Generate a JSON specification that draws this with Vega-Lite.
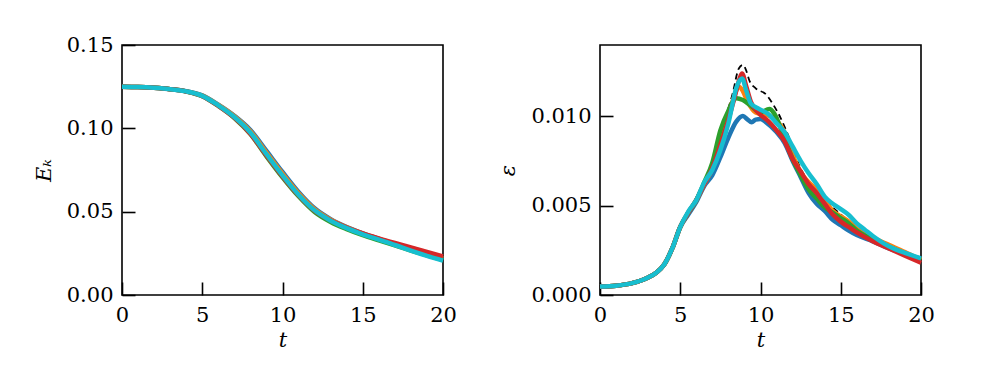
{
  "$schema": "https://vega.github.io/schema/vega-lite/v6.json",
  "background": "white",
  "padding": {"left": 32, "top": 33, "right": 5, "bottom": 5},
  "spacing": 39,
  "config": {
    "font": "DejaVu Serif",
    "view": {"stroke": "black", "strokeWidth": 1.6},
    "axis": {
      "grid": false,
      "domain": false,
      "tickSize": -13,
      "tickWidth": 1.6,
      "tickColor": "black",
      "labelPadding": 22,
      "labelFontSize": 21,
      "labelColor": "black",
      "labelFont": "DejaVu Serif",
      "titleFont": "DejaVu Serif",
      "titleFontSize": 21,
      "titleFontWeight": "normal",
      "titleFontStyle": "italic",
      "titleColor": "black",
      "labelFlush": false,
      "labelOverlap": false
    }
  },
  "datasets": {
    "ek": [
      {"t":0,"s":"a","v":0.125},{"t":1,"s":"a","v":0.1248},{"t":2,"s":"a","v":0.1243},{"t":3,"s":"a","v":0.1235},{"t":4,"s":"a","v":0.1223},{"t":5,"s":"a","v":0.1198},{"t":6,"s":"a","v":0.1142},{"t":7,"s":"a","v":0.1075},{"t":8,"s":"a","v":0.099},{"t":9,"s":"a","v":0.0865},{"t":10,"s":"a","v":0.0738},{"t":11,"s":"a","v":0.0618},{"t":12,"s":"a","v":0.052},{"t":13,"s":"a","v":0.0455},{"t":14,"s":"a","v":0.0408},{"t":15,"s":"a","v":0.037},{"t":16,"s":"a","v":0.0337},{"t":17,"s":"a","v":0.0305},{"t":18,"s":"a","v":0.0272},{"t":19,"s":"a","v":0.0242},{"t":20,"s":"a","v":0.0212},
      {"t":0,"s":"b","v":0.125},{"t":1,"s":"b","v":0.1248},{"t":2,"s":"b","v":0.1243},{"t":3,"s":"b","v":0.1235},{"t":4,"s":"b","v":0.1222},{"t":5,"s":"b","v":0.1196},{"t":6,"s":"b","v":0.114},{"t":7,"s":"b","v":0.1072},{"t":8,"s":"b","v":0.0982},{"t":9,"s":"b","v":0.0855},{"t":10,"s":"b","v":0.0728},{"t":11,"s":"b","v":0.0611},{"t":12,"s":"b","v":0.0515},{"t":13,"s":"b","v":0.0452},{"t":14,"s":"b","v":0.0406},{"t":15,"s":"b","v":0.0368},{"t":16,"s":"b","v":0.0336},{"t":17,"s":"b","v":0.0306},{"t":18,"s":"b","v":0.0276},{"t":19,"s":"b","v":0.0248},{"t":20,"s":"b","v":0.0219},
      {"t":0,"s":"c","v":0.125},{"t":1,"s":"c","v":0.1248},{"t":2,"s":"c","v":0.1243},{"t":3,"s":"c","v":0.1235},{"t":4,"s":"c","v":0.1221},{"t":5,"s":"c","v":0.1193},{"t":6,"s":"c","v":0.1134},{"t":7,"s":"c","v":0.1062},{"t":8,"s":"c","v":0.0965},{"t":9,"s":"c","v":0.0832},{"t":10,"s":"c","v":0.0706},{"t":11,"s":"c","v":0.0592},{"t":12,"s":"c","v":0.0498},{"t":13,"s":"c","v":0.0438},{"t":14,"s":"c","v":0.0395},{"t":15,"s":"c","v":0.0359},{"t":16,"s":"c","v":0.0328},{"t":17,"s":"c","v":0.0298},{"t":18,"s":"c","v":0.0267},{"t":19,"s":"c","v":0.0238},{"t":20,"s":"c","v":0.021},
      {"t":0,"s":"d","v":0.125},{"t":1,"s":"d","v":0.1248},{"t":2,"s":"d","v":0.1243},{"t":3,"s":"d","v":0.1235},{"t":4,"s":"d","v":0.1221},{"t":5,"s":"d","v":0.1193},{"t":6,"s":"d","v":0.1135},{"t":7,"s":"d","v":0.1064},{"t":8,"s":"d","v":0.0968},{"t":9,"s":"d","v":0.0838},{"t":10,"s":"d","v":0.0712},{"t":11,"s":"d","v":0.0598},{"t":12,"s":"d","v":0.0505},{"t":13,"s":"d","v":0.0447},{"t":14,"s":"d","v":0.0405},{"t":15,"s":"d","v":0.037},{"t":16,"s":"d","v":0.034},{"t":17,"s":"d","v":0.0312},{"t":18,"s":"d","v":0.0285},{"t":19,"s":"d","v":0.0258},{"t":20,"s":"d","v":0.0232},
      {"t":0,"s":"e","v":0.125},{"t":1,"s":"e","v":0.1248},{"t":2,"s":"e","v":0.1243},{"t":3,"s":"e","v":0.1235},{"t":4,"s":"e","v":0.1222},{"t":5,"s":"e","v":0.1195},{"t":6,"s":"e","v":0.1138},{"t":7,"s":"e","v":0.1068},{"t":8,"s":"e","v":0.0975},{"t":9,"s":"e","v":0.0845},{"t":10,"s":"e","v":0.0718},{"t":11,"s":"e","v":0.0602},{"t":12,"s":"e","v":0.0508},{"t":13,"s":"e","v":0.0446},{"t":14,"s":"e","v":0.0401},{"t":15,"s":"e","v":0.0364},{"t":16,"s":"e","v":0.0332},{"t":17,"s":"e","v":0.03},{"t":18,"s":"e","v":0.0266},{"t":19,"s":"e","v":0.0235},{"t":20,"s":"e","v":0.0206}
    ],
    "ref": [
      {"t":0,"v":0.00047},{"t":1,"v":0.00052},{"t":2,"v":0.00066},{"t":3,"v":0.00098},{"t":3.5,"v":0.00125},{"t":4,"v":0.0017},{"t":4.5,"v":0.0026},{"t":5,"v":0.0038},{"t":5.5,"v":0.0046},{"t":6,"v":0.0053},{"t":6.5,"v":0.0062},{"t":7,"v":0.0071},{"t":7.6,"v":0.0093},{"t":8.25,"v":0.0112},{"t":8.65,"v":0.01266},{"t":8.9,"v":0.01285},{"t":9.1,"v":0.01257},{"t":9.3,"v":0.012},{"t":9.7,"v":0.01155},{"t":10.35,"v":0.0112},{"t":10.75,"v":0.0107},{"t":11.25,"v":0.0099},{"t":11.8,"v":0.00875},{"t":12.4,"v":0.00726},{"t":13,"v":0.0063},{"t":13.9,"v":0.0054},{"t":15,"v":0.0045},{"t":16,"v":0.0037},{"t":17,"v":0.0031},{"t":18,"v":0.0027},{"t":19,"v":0.0023},{"t":20,"v":0.0019}
    ],
    "eps": [
      {"t":0,"s":"a","v":0.00047},{"t":1,"s":"a","v":0.00052},{"t":2,"s":"a","v":0.00066},{"t":3,"s":"a","v":0.00098},{"t":3.5,"s":"a","v":0.00125},{"t":4,"s":"a","v":0.0017},{"t":4.5,"s":"a","v":0.0026},{"t":5,"s":"a","v":0.0038},{"t":5.5,"s":"a","v":0.0045},{"t":6,"s":"a","v":0.0052},{"t":6.5,"s":"a","v":0.0061},{"t":7,"s":"a","v":0.0067},{"t":7.5,"s":"a","v":0.0077},{"t":8,"s":"a","v":0.0088},{"t":8.5,"s":"a","v":0.0097},{"t":8.9,"s":"a","v":0.01},{"t":9.2,"s":"a","v":0.0098},{"t":9.45,"s":"a","v":0.00965},{"t":9.7,"s":"a","v":0.0098},{"t":10,"s":"a","v":0.00983},{"t":10.35,"s":"a","v":0.00965},{"t":11,"s":"a","v":0.0091},{"t":11.5,"s":"a","v":0.0085},{"t":12,"s":"a","v":0.0075},{"t":12.5,"s":"a","v":0.0066},{"t":13,"s":"a","v":0.0057},{"t":13.5,"s":"a","v":0.0051},{"t":14,"s":"a","v":0.0047},{"t":14.5,"s":"a","v":0.0042},{"t":15,"s":"a","v":0.0039},{"t":15.5,"s":"a","v":0.0036},{"t":16,"s":"a","v":0.00335},{"t":17,"s":"a","v":0.003},{"t":18,"s":"a","v":0.0026},{"t":19,"s":"a","v":0.0023},{"t":20,"s":"a","v":0.002},
      {"t":0,"s":"b","v":0.00047},{"t":1,"s":"b","v":0.00052},{"t":2,"s":"b","v":0.00066},{"t":3,"s":"b","v":0.00098},{"t":3.5,"s":"b","v":0.00125},{"t":4,"s":"b","v":0.0017},{"t":4.5,"s":"b","v":0.0026},{"t":5,"s":"b","v":0.0038},{"t":5.5,"s":"b","v":0.0046},{"t":6,"s":"b","v":0.0053},{"t":6.5,"s":"b","v":0.0062},{"t":7,"s":"b","v":0.0071},{"t":7.6,"s":"b","v":0.0091},{"t":8.25,"s":"b","v":0.0108},{"t":8.65,"s":"b","v":0.01164},{"t":8.9,"s":"b","v":0.0114},{"t":9.2,"s":"b","v":0.0108},{"t":9.7,"s":"b","v":0.0102},{"t":10.35,"s":"b","v":0.01006},{"t":10.95,"s":"b","v":0.0098},{"t":11.6,"s":"b","v":0.0089},{"t":12.2,"s":"b","v":0.0074},{"t":12.7,"s":"b","v":0.0066},{"t":13.25,"s":"b","v":0.0061},{"t":14,"s":"b","v":0.0053},{"t":14.5,"s":"b","v":0.0047},{"t":15,"s":"b","v":0.0044},{"t":15.5,"s":"b","v":0.0041},{"t":16,"s":"b","v":0.0037},{"t":17,"s":"b","v":0.0032},{"t":18,"s":"b","v":0.0028},{"t":19,"s":"b","v":0.0024},{"t":20,"s":"b","v":0.00196},
      {"t":0,"s":"c","v":0.00047},{"t":1,"s":"c","v":0.00052},{"t":2,"s":"c","v":0.00066},{"t":3,"s":"c","v":0.00098},{"t":3.5,"s":"c","v":0.00125},{"t":4,"s":"c","v":0.0017},{"t":4.5,"s":"c","v":0.0026},{"t":5,"s":"c","v":0.0038},{"t":5.5,"s":"c","v":0.0046},{"t":6,"s":"c","v":0.0053},{"t":6.5,"s":"c","v":0.0063},{"t":7,"s":"c","v":0.0074},{"t":7.5,"s":"c","v":0.0092},{"t":8,"s":"c","v":0.0103},{"t":8.5,"s":"c","v":0.011},{"t":8.9,"s":"c","v":0.0109},{"t":9.5,"s":"c","v":0.0105},{"t":10,"s":"c","v":0.0102},{"t":10.55,"s":"c","v":0.0104},{"t":10.85,"s":"c","v":0.01015},{"t":11.35,"s":"c","v":0.0091},{"t":12,"s":"c","v":0.0076},{"t":12.5,"s":"c","v":0.0067},{"t":13,"s":"c","v":0.0059},{"t":13.5,"s":"c","v":0.0054},{"t":14,"s":"c","v":0.0049},{"t":14.5,"s":"c","v":0.0046},{"t":15,"s":"c","v":0.0043},{"t":15.5,"s":"c","v":0.004},{"t":16,"s":"c","v":0.0036},{"t":17,"s":"c","v":0.0031},{"t":18,"s":"c","v":0.0027},{"t":19,"s":"c","v":0.0023},{"t":20,"s":"c","v":0.00196},
      {"t":0,"s":"d","v":0.00047},{"t":1,"s":"d","v":0.00052},{"t":2,"s":"d","v":0.00066},{"t":3,"s":"d","v":0.00098},{"t":3.5,"s":"d","v":0.00125},{"t":4,"s":"d","v":0.0017},{"t":4.5,"s":"d","v":0.0026},{"t":5,"s":"d","v":0.0038},{"t":5.5,"s":"d","v":0.0046},{"t":6,"s":"d","v":0.0053},{"t":6.5,"s":"d","v":0.0062},{"t":7,"s":"d","v":0.0071},{"t":7.5,"s":"d","v":0.0084},{"t":8,"s":"d","v":0.0098},{"t":8.4,"s":"d","v":0.0111},{"t":8.7,"s":"d","v":0.0121},{"t":8.85,"s":"d","v":0.01238},{"t":9.1,"s":"d","v":0.0117},{"t":9.4,"s":"d","v":0.0108},{"t":9.9,"s":"d","v":0.01015},{"t":10.5,"s":"d","v":0.0097},{"t":11,"s":"d","v":0.0092},{"t":11.5,"s":"d","v":0.0086},{"t":12,"s":"d","v":0.0076},{"t":12.5,"s":"d","v":0.0069},{"t":13,"s":"d","v":0.0062},{"t":13.5,"s":"d","v":0.0057},{"t":14,"s":"d","v":0.0051},{"t":14.5,"s":"d","v":0.0045},{"t":15,"s":"d","v":0.0041},{"t":15.5,"s":"d","v":0.0038},{"t":16,"s":"d","v":0.0035},{"t":17,"s":"d","v":0.003},{"t":18,"s":"d","v":0.0026},{"t":19,"s":"d","v":0.0022},{"t":20,"s":"d","v":0.0018},
      {"t":0,"s":"e","v":0.00047},{"t":1,"s":"e","v":0.00052},{"t":2,"s":"e","v":0.00066},{"t":3,"s":"e","v":0.00098},{"t":3.5,"s":"e","v":0.00125},{"t":4,"s":"e","v":0.0017},{"t":4.5,"s":"e","v":0.0026},{"t":5,"s":"e","v":0.0038},{"t":5.5,"s":"e","v":0.00466},{"t":6,"s":"e","v":0.0053},{"t":6.5,"s":"e","v":0.0063},{"t":7,"s":"e","v":0.007},{"t":7.5,"s":"e","v":0.0081},{"t":8,"s":"e","v":0.0096},{"t":8.5,"s":"e","v":0.0116},{"t":8.85,"s":"e","v":0.0121},{"t":9.1,"s":"e","v":0.01145},{"t":9.4,"s":"e","v":0.0107},{"t":9.9,"s":"e","v":0.0104},{"t":10.5,"s":"e","v":0.0101},{"t":11,"s":"e","v":0.0096},{"t":11.5,"s":"e","v":0.0091},{"t":12,"s":"e","v":0.0083},{"t":12.5,"s":"e","v":0.0075},{"t":13,"s":"e","v":0.0068},{"t":13.5,"s":"e","v":0.0062},{"t":14,"s":"e","v":0.0055},{"t":14.5,"s":"e","v":0.0051},{"t":15,"s":"e","v":0.0048},{"t":15.5,"s":"e","v":0.00447},{"t":16,"s":"e","v":0.004},{"t":16.5,"s":"e","v":0.00365},{"t":17,"s":"e","v":0.0033},{"t":18,"s":"e","v":0.00272},{"t":19,"s":"e","v":0.00235},{"t":20,"s":"e","v":0.00205}
    ]
  },
  "hconcat": [
    {
      "width": 321,
      "height": 250,
      "data": {"name": "ek"},
      "mark": {"type": "line", "strokeWidth": 4.5, "interpolate": "monotone"},
      "encoding": {
        "x": {"field": "t", "type": "quantitative", "scale": {"domain": [0, 20], "nice": false}, "axis": {"values": [0, 5, 10, 15, 20], "title": "t", "titlePadding": 4}},
        "y": {"field": "v", "type": "quantitative", "scale": {"domain": [0, 0.15], "nice": false}, "axis": {"values": [0, 0.05, 0.1, 0.15], "format": ".2f", "title": "Eₖ", "titlePadding": 12}},
        "color": {"field": "s", "type": "nominal", "legend": null, "scale": {"domain": ["a", "b", "c", "d", "e"], "range": ["#1f77b4", "#ff7f0e", "#2ca02c", "#d62728", "#17becf"]}}
      }
    },
    {
      "width": 321,
      "height": 250,
      "layer": [
        {
          "data": {"name": "ref"},
          "mark": {"type": "line", "strokeWidth": 1.8, "color": "black", "strokeDash": [6, 4], "interpolate": "monotone"},
          "encoding": {
            "x": {"field": "t", "type": "quantitative"},
            "y": {"field": "v", "type": "quantitative"}
          }
        },
        {
          "data": {"name": "eps"},
          "mark": {"type": "line", "strokeWidth": 4.5, "interpolate": "monotone"},
          "encoding": {
            "x": {"field": "t", "type": "quantitative"},
            "y": {"field": "v", "type": "quantitative"},
            "color": {"field": "s", "type": "nominal", "legend": null, "scale": {"domain": ["a", "b", "c", "d", "e"], "range": ["#1f77b4", "#ff7f0e", "#2ca02c", "#d62728", "#17becf"]}}
          }
        }
      ],
      "encoding": {
        "x": {"field": "t", "type": "quantitative", "scale": {"domain": [0, 20], "nice": false}, "axis": {"values": [0, 5, 10, 15, 20], "title": "t", "titlePadding": 4}},
        "y": {"field": "v", "type": "quantitative", "scale": {"domain": [0, 0.01397], "nice": false}, "axis": {"values": [0, 0.005, 0.01], "format": ".3f", "title": "ε", "titlePadding": 12}}
      }
    }
  ]
}
